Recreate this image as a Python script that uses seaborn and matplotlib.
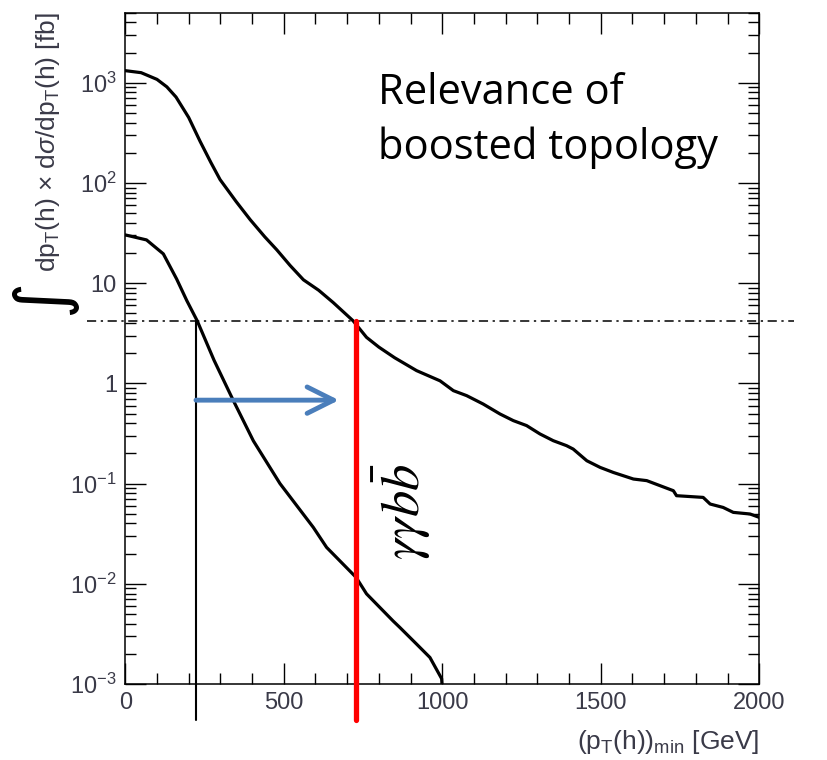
import matplotlib
matplotlib.use("Agg")
import matplotlib.pyplot as plt
import seaborn as sns
import pandas as pd
from matplotlib.ticker import FixedLocator, MultipleLocator, NullFormatter

# <--- values --->
pt_upper = [0, 50, 100, 131, 160, 200, 236, 270, 299, 350, 394, 440, 478, 520, 562,
            610, 656, 690, 719, 761, 800, 850, 919, 993, 1035, 1077, 1129, 1182,
            1224, 1266, 1308, 1350, 1392, 1413, 1456, 1498, 1540, 1603, 1645, 1687,
            1729, 1739, 1823, 1845, 1886, 1918, 1971, 2000]
xs_upper = [1320, 1260, 1080, 910, 720, 450, 260, 160, 108, 65, 43, 29, 21.5, 15, 10.8,
            8.5, 6.4, 5.1, 4.2, 2.88, 2.3, 1.8, 1.34, 1.06, 0.846, 0.754, 0.622, 0.495,
            0.425, 0.379, 0.313, 0.268, 0.239, 0.221, 0.169, 0.145, 0.129, 0.111, 0.107,
            0.0953, 0.0849, 0.0757, 0.0728, 0.0625, 0.0578, 0.0516, 0.0497, 0.046]

pt_lower = [0, 67, 120, 162, 194, 227, 280, 341, 404, 488, 593, 635, 728, 761, 845,
            866, 919, 961, 998, 1000]
xs_lower = [30.3, 27, 19.6, 11, 6.7, 4.2, 1.7, 0.672, 0.267, 0.1, 0.0366, 0.0231,
            0.0116, 0.00794, 0.00425, 0.00367, 0.0025, 0.00184, 0.00113, 0.0009]

threshold = 4.2          # dash-dot horizontal level [fb]
pt_cut_low = 223         # thin black vertical line [GeV]
pt_cut_high = 728        # red vertical line [GeV]
arrow_y = 0.68
arrow_end = 674

ytick_vals = [1e-3, 1e-2, 1e-1, 1, 10, 1e2, 1e3]
ytick_labels = [r"$10^{-3}$", r"$10^{-2}$", r"$10^{-1}$", "1", "10", r"$10^{2}$", r"$10^{3}$"]
xtick_vals = [0, 500, 1000, 1500, 2000]

df_upper = pd.DataFrame({"pt": pt_upper, "xs": xs_upper})
df_lower = pd.DataFrame({"pt": pt_lower, "xs": xs_lower})

sns.set_style("ticks")
plt.rcParams["font.family"] = ["Liberation Sans", "DejaVu Sans"]
plt.rcParams["mathtext.fontset"] = "custom"
plt.rcParams["mathtext.rm"] = "Liberation Sans"
plt.rcParams["mathtext.it"] = "Liberation Sans:italic"

fig = plt.figure(figsize=(8.27, 7.6), dpi=100)
ax = fig.add_axes([0.1515, 0.1, 0.7666, 0.8833])

sns.lineplot(data=df_upper, x="pt", y="xs", ax=ax, color="black", lw=2.3,
             sort=False, estimator=None)
sns.lineplot(data=df_lower, x="pt", y="xs", ax=ax, color="black", lw=2.3,
             sort=False, estimator=None)

ax.set_yscale("log")
ax.set_xlim(0, 2000)
ax.set_ylim(1e-3, 5e3)

# reference lines
ax.plot([-121, 2110], [threshold, threshold], color="black", lw=1.1,
        ls=(0, (6, 3, 1.5, 3)), clip_on=False)
ax.plot([pt_cut_low, pt_cut_low], [threshold, 4.4e-4], color="black", lw=1.5,
        clip_on=False)
ax.plot([pt_cut_high, pt_cut_high], [threshold, 4.4e-4], color="#ff0000", lw=3.8,
        clip_on=False, zorder=5)
ax.annotate("", xy=(arrow_end, arrow_y), xytext=(pt_cut_low, arrow_y),
            arrowprops=dict(arrowstyle="->,head_length=1.9,head_width=0.95",
                            color="#4a7ebb", lw=3.5, capstyle="round",
                            joinstyle="round", shrinkA=0, shrinkB=0))

ax.text(775, 0.052, r"$\gamma\gamma b\bar{b}$", rotation=90, fontsize=38,
        ha="left", va="center", math_fontfamily="stix", color="black")
ax.text(0.398, 0.84, "Relevance of\nboosted topology", transform=ax.transAxes,
        fontsize=30, family="Open Sans", ha="left", va="center", linespacing=1.38,
        color="black")

# axes styling (ROOT look)
tick_col = "#3a3a48"
ax.yaxis.set_major_locator(FixedLocator(ytick_vals))
ax.set_yticklabels(ytick_labels)
ax.xaxis.set_major_locator(FixedLocator(xtick_vals))
ax.xaxis.set_minor_locator(MultipleLocator(100))
ax.yaxis.set_minor_formatter(NullFormatter())
ax.tick_params(which="both", direction="in", top=True, right=True, colors="black",
               labelcolor=tick_col, labelsize=17, width=1.0)
ax.tick_params(which="major", length=15, pad=6)
ax.tick_params(which="minor", length=8)
for s in ax.spines.values():
    s.set_linewidth(1.1)
    s.set_color("black")

ax.set_xlabel(r"(p$_\mathrm{T}$(h))$_\mathrm{min}$ [GeV]", fontsize=19, color=tick_col,
              loc="right")
ax.xaxis.set_label_coords(1.0, -0.065)
ax.set_ylabel(r"dp$_\mathrm{T}$(h) $\times$ d$\sigma$/dp$_\mathrm{T}$(h) [fb]",
              fontsize=19, color=tick_col, loc="top")
ax.yaxis.set_label_coords(-0.1, 1.0)
fig.text(0.052, 0.609, "\u222B", rotation=90, fontsize=50, family="DejaVu Sans",
         ha="center", va="center", color="black")

fig.savefig("out.png", dpi=100)
